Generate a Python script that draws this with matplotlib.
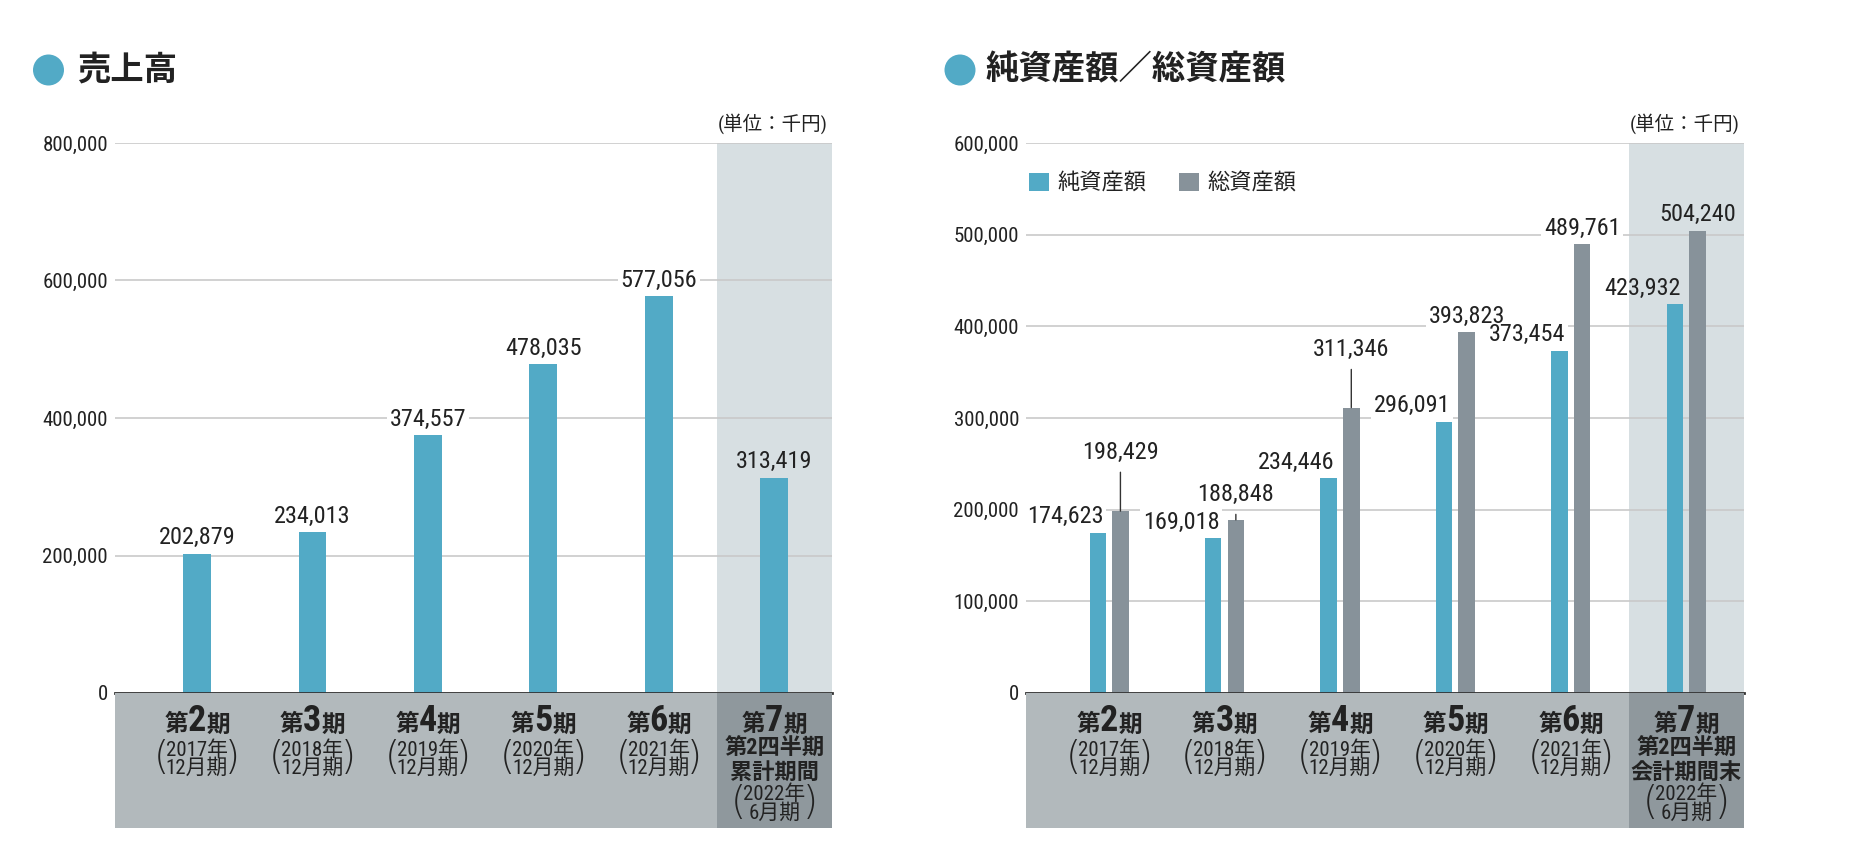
"""売上高 / 純資産額・総資産額 の棒グラフ (2 パネル)."""

import matplotlib
matplotlib.use("Agg")
import matplotlib.pyplot as plt
from matplotlib import font_manager as fm
from matplotlib.patches import Ellipse
from matplotlib.ticker import FuncFormatter, MultipleLocator

JP = "Noto Sans CJK JP"


def pick_narrow():
    # 参考画像の数字は細身のフォントなので、あれば condensed 系を使う
    entries = fm.fontManager.ttflist
    names = {f.name for f in entries}
    for n in ("Liberation Sans Narrow", "Roboto Condensed", "DejaVu Sans Condensed",
              "Open Sans Condensed"):
        if n in names:
            return n, "normal"
    if any(f.name == "DejaVu Sans" and "condensed" in str(f.stretch) for f in entries):
        return "DejaVu Sans", "condensed"
    return "Roboto", "normal"


NARROW, STRETCH = pick_narrow()
NUM = [NARROW, JP]
plt.rcParams["font.family"] = NUM
plt.rcParams["font.stretch"] = STRETCH

TEAL = "#52aac6"
GRAY_BAR = "#87929a"
SHADE = "#d7dfe2"
BAND = "#b2b9bc"
BAND_DARK = "#8f989d"
INK = "#222222"

# --- data ---------------------------------------------------------------
periods = ["2", "3", "4", "5", "6", "7"]
years = ["2017年", "2018年", "2019年", "2020年", "2021年", "2022年"]
months = ["12月期", "12月期", "12月期", "12月期", "12月期", "6月期"]
last_sales_note = ["第2四半期", "累計期間"]
last_assets_note = ["第2四半期", "会計期間末"]

sales = [202879, 234013, 374557, 478035, 577056, 313419]
net_assets = [174623, 169018, 234446, 296091, 373454, 423932]
total_assets = [198429, 188848, 311346, 393823, 489761, 504240]

W, H = 1858, 866


def fmt(v):
    return f"{v:,.0f}"


def setup_axes(ax, ymax, step, xmin):
    ax.set_xlim(xmin, 5.5)
    ax.set_ylim(0, ymax)
    ax.yaxis.set_major_locator(MultipleLocator(step))
    ax.yaxis.set_major_formatter(FuncFormatter(lambda v, _: fmt(v)))
    ax.grid(axis="y", color="#c9c9c9", lw=1.2)
    ax.set_axisbelow(True)
    ax.set_xticks([])
    for s in ("top", "right", "left"):
        ax.spines[s].set_visible(False)
    ax.spines["bottom"].set_color("#333333")
    ax.spines["bottom"].set_linewidth(2)
    ax.spines["bottom"].set_zorder(5)
    ax.tick_params(axis="y", length=0, pad=5, labelsize=15, labelcolor=INK)
    ax.axvspan(4.5, 5.5, color=SHADE, lw=0, zorder=0)
    ax.text(0.994, 1.035, "(単位：千円)", transform=ax.transAxes, ha="right",
            va="center", fontsize=14, color=INK)


def put_label(ax, x, v, ha="center", lift=11.5, dx=0, bg="white", leader=False):
    kw = dict(xy=(x, v), xytext=(dx, lift), textcoords="offset points", ha=ha,
              va="center", fontsize=17.5)
    # 下地 (グリッド線を隠す) は全ラベル共通で文字より下に置く
    if bg != "none":
        arrow = None
        if leader:
            arrow = dict(arrowstyle="-", color="#333333", lw=1, shrinkA=4, shrinkB=0)
        ax.annotate(fmt(v), color=bg, zorder=3,
                    bbox=dict(boxstyle="square,pad=0.1", fc=bg, ec="none"),
                    arrowprops=arrow, **kw)
    ax.annotate(fmt(v), color=INK, zorder=4, **kw)


def draw_band(ax_band, note):
    ax_band.set_ylim(1, 0)
    ax_band.axis("off")
    ax_band.axvspan(-1, 4.5, color=BAND, lw=0)
    ax_band.axvspan(4.5, 5.5, color=BAND_DARK, lw=0)
    for i, p in enumerate(periods):
        yb = 0.285
        ax_band.text(i, yb, p, fontsize=26, weight="bold", ha="center",
                     va="baseline", color=INK)
        for ch, dx, ha in (("第", -6.5, "right"), ("期", 6.5, "left")):
            ax_band.annotate(ch, xy=(i, yb), xytext=(dx, 0), textcoords="offset points",
                             ha=ha, va="baseline", fontsize=17, weight="bold",
                             family=JP, color=INK)
        if i < 5:
            ys, ym, yp = 0.42, 0.555, 0.485
        else:
            ax_band.text(i, 0.415, note[0], fontsize=16, weight="bold", ha="center",
                         va="center", color=INK)
            ax_band.text(i, 0.595, note[1], fontsize=16, weight="bold", ha="center",
                         va="center", color=INK)
            ys, ym, yp = 0.75, 0.89, 0.815
        ax_band.text(i, ys, years[i], fontsize=15, ha="center", va="center", color=INK)
        ax_band.text(i, ym, months[i], fontsize=15, ha="center", va="center", color=INK)
        for ch, dx in (("(", -0.31), (")", 0.31)):
            ax_band.text(i + dx, yp, ch, fontsize=28, ha="center", va="center",
                         color=INK, family="DejaVu Sans", weight="light")


def title(fig, x_circle, x_text, text):
    fig.add_artist(Ellipse((x_circle / W, 1 - 70 / H), 31 / W, 31 / H,
                           transform=fig.transFigure, color=TEAL, lw=0))
    fig.text(x_text / W, 1 - 70 / H, text, fontsize=24, weight="bold", family=JP,
             va="center", ha="left", color=INK)


fig = plt.figure(figsize=(W / 100, H / 100), dpi=100)

# --- 売上高 -------------------------------------------------------------
ax1 = fig.add_axes([115 / W, 1 - 693 / H, 717 / W, 550 / H])
band1 = fig.add_axes([115 / W, 1 - 828 / H, 717 / W, 135 / H], sharex=ax1)
setup_axes(ax1, 800000, 200000, -0.71)
ax1.bar(range(6), sales, width=0.24, color=TEAL, zorder=2)
for i, v in enumerate(sales):
    put_label(ax1, i, v, bg="none" if i == 5 else "white")
draw_band(band1, last_sales_note)
title(fig, 48.5, 77, "売上高")

# --- 純資産額／総資産額 ---------------------------------------------------
ax2 = fig.add_axes([1026 / W, 1 - 693 / H, 718 / W, 550 / H])
band2 = fig.add_axes([1026 / W, 1 - 828 / H, 718 / W, 135 / H], sharex=ax2)
setup_axes(ax2, 600000, 100000, -0.72)
off, bw = 0.098, 0.143
xs = list(range(6))
ax2.bar([x - off for x in xs], net_assets, width=bw, color=TEAL, zorder=2,
        label="純資産額")
ax2.bar([x + off for x in xs], total_assets, width=bw, color=GRAY_BAR, zorder=2,
        label="総資産額")
lifts = {0: 42, 1: 18, 2: 41.5}
for i in xs:
    bg = "none" if i == 5 else "white"
    put_label(ax2, i - off + bw / 2, net_assets[i], ha="right", dx=-1.5, bg=bg)
    put_label(ax2, i + off, total_assets[i], lift=lifts.get(i, 11.5), bg=bg,
              leader=i in lifts)
draw_band(band2, last_assets_note)
ax2.legend(loc="upper left", bbox_to_anchor=(0.004, 0.948), ncol=2, frameon=False,
           prop=dict(family=JP, size=16), handlelength=0.9, handleheight=0.9,
           handletextpad=0.4, columnspacing=1.45, borderaxespad=0, borderpad=0,
           labelcolor=INK)
title(fig, 960, 986, "純資産額／総資産額")

fig.savefig("out.png", dpi=100)
